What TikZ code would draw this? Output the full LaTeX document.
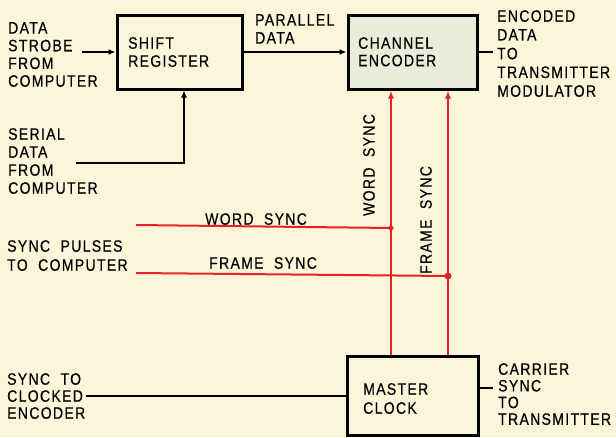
\documentclass[tikz,border=0pt]{standalone}
\usepackage{fontspec}
\setmainfont{Liberation Sans}[FakeStretch=0.85, LetterSpace=8, FakeBold=0.4, WordSpace=2]
\usetikzlibrary{arrows.meta}
\definecolor{PaperCream}{HTML}{FBF5D9}
\definecolor{EncoderFill}{HTML}{E8EDDA}
\definecolor{SyncRed}{HTML}{E8202A}

\begin{document}
\begin{tikzpicture}[
    x=1pt, y=-1pt,
    box/.style={draw=black, line width=3pt, minimum width=#1, minimum height=74pt, inner sep=0pt},
    boxtext/.style={anchor=north west, inner sep=0pt, align=left, font=\fontsize{16.5}{18}\selectfont},
    label/.style={anchor=north west, inner sep=0pt, align=left, font=\fontsize{16.5}{18}\selectfont},
    wire/.style={line width=1.4pt, draw=black},
    arrow/.style={wire, -{Latex[length=7pt,width=6pt]}},
    sync/.style={line width=2pt, draw=SyncRed},
    syncarrow/.style={sync, -{Latex[length=8pt,width=6pt]}}
  ]
    \fill[PaperCream] (0,0) rectangle (616,437);
    \useasboundingbox (0,0) rectangle (616,437);

    % blocks
    \node[box=125pt] (sreg) at (179.5,52) {};
    \node[box=129pt, fill=EncoderFill] (enc) at (412.5,52) {};
    \node[box=131pt, minimum height=79pt] (clk) at (412.5,395.5) {};
    \node[boxtext] (sregtxt) at (128,37) {SHIFT\\REGISTER};
    \node[boxtext, font=\fontsize{16.5}{17.5}\selectfont] (enctxt) at (358,37) {CHANNEL\\ENCODER};
    \node[boxtext, font=\fontsize{16.5}{19}\selectfont] (clktxt) at (363,383) {MASTER\\CLOCK};

    % inputs and outputs
    \node[label, font=\fontsize{16.5}{17.7}\selectfont] (strobetxt) at (8,22) {DATA\\STROBE\\FROM\\COMPUTER};
    \node[label] (serialtxt) at (8,128) {SERIAL\\DATA\\FROM\\COMPUTER};
    \node[label] (paralleltxt) at (255,14) {PARALLEL\\DATA};
    \node[label, font=\fontsize{16.5}{18.75}\selectfont] (encodedtxt) at (497,10) {ENCODED\\DATA\\TO\\TRANSMITTER\\MODULATOR};
    \node[label, font=\fontsize{16.5}{19}\selectfont] (pulsestxt) at (7,240) {SYNC PULSES\\TO COMPUTER};
    \node[label] (wordtxt) at (205,213) {WORD SYNC};
    \node[label] (frametxt) at (209,257) {FRAME SYNC};
    \node[label, font=\fontsize{16.5}{17}\selectfont] (clockedtxt) at (7,373) {SYNC TO\\CLOCKED\\ENCODER};
    \node[label, font=\fontsize{16.5}{16.7}\selectfont] (carriertxt) at (498,363) {CARRIER\\SYNC\\TO\\TRANSMITTER};
    \node[label, anchor=center, rotate=90] (wordvtxt) at (369,165) {WORD SYNC};
    \node[label, anchor=center, rotate=90] (framevtxt) at (426,220) {FRAME SYNC};

    \coordinate (strobe) at (82,52);
    \coordinate (serial) at (76,163);
    \coordinate (encout) at (493,52);
    \coordinate (ws) at (391,228);
    \coordinate (fs) at (448,276);
    \coordinate (wsend) at (136,225);
    \coordinate (fsend) at (136,273);
    \coordinate (clkenc) at (86,396);
    \coordinate (carrier) at (493,388);

    % black connectors
    \draw[arrow] (strobe) -- (strobe -| sreg.west);
    \draw[arrow] (serial) -| ([xshift=4.5pt]sreg.south);
    \draw[arrow] (sreg.east) -- (enc.west);
    \draw[wire] (enc.east) -- (encout);
    \draw[wire] (clkenc) -- (clkenc -| clk.west);
    \draw[wire] (carrier -| clk.east) -- (carrier);

    % sync lines
    \draw[syncarrow] (ws |- clk.north) -- (ws |- enc.south);
    \draw[syncarrow] (fs |- clk.north) -- (fs |- enc.south);
    \draw[sync] (wsend) -- (ws);
    \draw[sync] (fsend) -- (fs);
    \fill[SyncRed] (ws) circle (2.5);
    \fill[SyncRed] (fs) circle (3.5);
  \end{tikzpicture}
\end{document}
